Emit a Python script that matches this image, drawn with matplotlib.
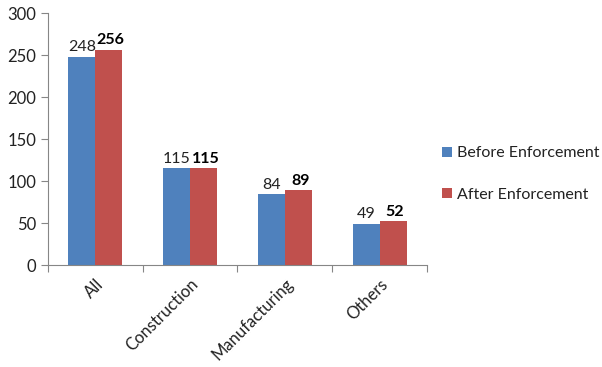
import matplotlib.pyplot as plt
import numpy as np

categories = ['All', 'Construction', 'Manufacturing', 'Others']
before = [248, 115, 84, 49]
after = [256, 115, 89, 52]
series_names = ['Before Enforcement', 'After Enforcement']

plt.rcParams['font.family'] = ['Lato', 'DejaVu Sans']

fig = plt.figure(figsize=(6.02, 3.67), dpi=100)
ax = fig.add_axes([48 / 602, 1 - 265 / 367, (427 - 48) / 602, (265 - 13) / 367])

x = np.arange(len(categories))
w = 0.285
b1 = ax.bar(x - w / 2, before, w, color='#4F81BD', label=series_names[0])
b2 = ax.bar(x + w / 2, after, w, color='#C0504D', label=series_names[1])

for rect, v in zip(b1, before):
    ax.text(rect.get_x() + rect.get_width() / 2, v + 3, str(v), ha='center', va='bottom',
            fontsize=11.5, color='#222222')
for rect, v in zip(b2, after):
    ax.text(rect.get_x() + rect.get_width() / 2 + 0.02, v + 3, str(v), ha='center', va='bottom',
            fontsize=11.5, fontweight='bold', color='black')

ax.set_xlim(-0.5, len(categories) - 0.5)
ax.set_ylim(0, 300)
ax.set_yticks(range(0, 301, 50))
ax.tick_params(axis='y', labelsize=12, colors='#222222', length=5, color='#868686')

ax.set_xticks(np.arange(-0.5, len(categories), 1))
ax.set_xticklabels([])
ax.set_xticks(x, minor=True)
ax.set_xticklabels(categories, minor=True, rotation=45, ha='right', rotation_mode='anchor',
                   fontsize=12, color='#222222')
ax.tick_params(axis='x', which='major', length=5, color='#868686')
ax.tick_params(axis='x', which='minor', length=0, pad=8)

for s in ['top', 'right']:
    ax.spines[s].set_visible(False)
for s in ['left', 'bottom']:
    ax.spines[s].set_color('#868686')

fig.legend(handles=[b1, b2], loc='center left', bbox_to_anchor=(428 / 602, 1 - 174 / 367),
           frameon=False, fontsize=11.5, handlelength=0.6, handleheight=0.6, handletextpad=0.3,
           labelspacing=1.7, labelcolor='#222222')

fig.savefig('out.png', dpi=100)
